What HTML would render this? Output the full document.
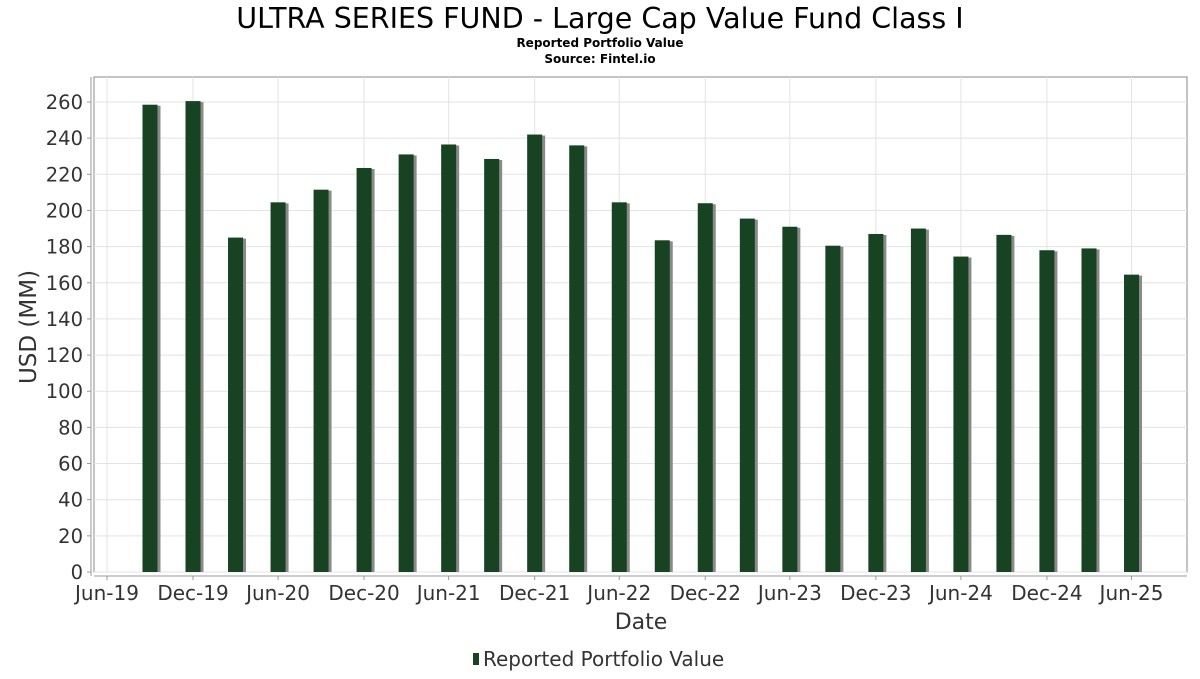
<!DOCTYPE html>
<html><head><meta charset="utf-8"><style>
body{margin:0;background:#fff;font-family:"DejaVu Sans","Liberation Sans",sans-serif;}
svg text{fill:#333;}
</style></head><body>
<svg width="1200" height="675" xmlns="http://www.w3.org/2000/svg">
<text x="600" y="28" text-anchor="middle" font-size="28.5" style="fill:#000">ULTRA SERIES FUND - Large Cap Value Fund Class I</text>
<text x="600" y="47" text-anchor="middle" font-size="12" font-weight="bold" style="fill:#000">Reported Portfolio Value</text>
<text x="600" y="63" text-anchor="middle" font-size="12" font-weight="bold" style="fill:#000">Source: Fintel.io</text>
<rect x="94" y="77" width="1093" height="495" fill="#fff" stroke="#888"/>
<g id="grid"></g>
<g id="bars"></g>
<line x1="91" y1="77" x2="91" y2="576" stroke="#999"/>
<line x1="94" y1="576" x2="1187" y2="576" stroke="#999"/>
<g id="yt"></g><g id="xt"></g>
<text x="36" y="327" text-anchor="middle" font-size="23" transform="rotate(-90 36 327)">USD (MM)</text>
<text x="641" y="629" text-anchor="middle" font-size="22">Date</text>
<g>
<rect x="473" y="653" width="6" height="12" fill="#174322"/>
<text x="483" y="666" font-size="20">Reported Portfolio Value</text>
</g>
</svg>
<script>
const dates=["2019-09-30","2019-12-31","2020-03-31","2020-06-30","2020-09-30","2020-12-31","2021-03-31","2021-06-30","2021-09-30","2021-12-31","2022-03-31","2022-06-30","2022-09-30","2022-12-31","2023-03-31","2023-06-30","2023-09-30","2023-12-31","2024-03-31","2024-06-30","2024-09-30","2024-12-31","2025-03-31","2025-06-30"];
const values=[258.5,260.5,185,204.5,211.5,223.5,231,236.5,228.5,242,236,204.5,183.5,204,195.5,191,180.5,187,190,174.5,186.5,178,179,164.5];
const yTicks=[0,20,40,60,80,100,120,140,160,180,200,220,240,260];
const xTickDates=["2019-06-30","2019-12-31","2020-06-30","2020-12-31","2021-06-30","2021-12-31","2022-06-30","2022-12-31","2023-06-30","2023-12-31","2024-06-30","2024-12-31","2025-06-30"];
const xTickLabels=["Jun-19","Dec-19","Jun-20","Dec-20","Jun-21","Dec-21","Jun-22","Dec-22","Jun-23","Dec-23","Jun-24","Dec-24","Jun-25"];
const NS="http://www.w3.org/2000/svg";
const t0=Date.parse("2019-06-30");
function xs(d){return 107+(Date.parse(d)-t0)/86400000*(86/184);}
function ys(v){return 572-v*(470/260);}
function mk(tag,attrs,parent){const e=document.createElementNS(NS,tag);for(const k in attrs)e.setAttribute(k,attrs[k]);document.getElementById(parent).appendChild(e);return e;}
yTicks.forEach(v=>{
 const g=mk("line",{x1:94,x2:1187,y1:ys(v),y2:ys(v),stroke:"#e3e3e3"},"grid");
 
 
 const tk=mk("line",{x1:87,x2:91,y1:ys(v),y2:ys(v),stroke:"#999"},"yt");
 
 
 const t=mk("text",{x:83,y:ys(v)+7,"text-anchor":"end","font-size":"19.5"},"yt");
 t.textContent=v;
 
 
});
xTickDates.forEach((d,i)=>{
 const x=xs(d);
 const g=mk("line",{x1:x,x2:x,y1:77,y2:572,stroke:"#e3e3e3"},"grid");
 
 
 const tk=mk("line",{x1:x,x2:x,y1:576,y2:580,stroke:"#999"},"xt");
 
 
 const t=mk("text",{x:x,y:600,"text-anchor":"middle","font-size":"20"},"xt");
 t.textContent=xTickLabels[i];
 
 
});
dates.forEach((d,i)=>{
 const x=xs(d)-7.5,y=ys(values[i]),h=572-y;
 const s=mk("rect",{x:x+3,y:y+1,width:15,height:h-1,fill:"#8a8a8a"},"bars");
 
 
 const b=mk("rect",{x:x,y:y,width:15,height:h,fill:"#174322"},"bars");
 
 
});
</script>
</body></html>
